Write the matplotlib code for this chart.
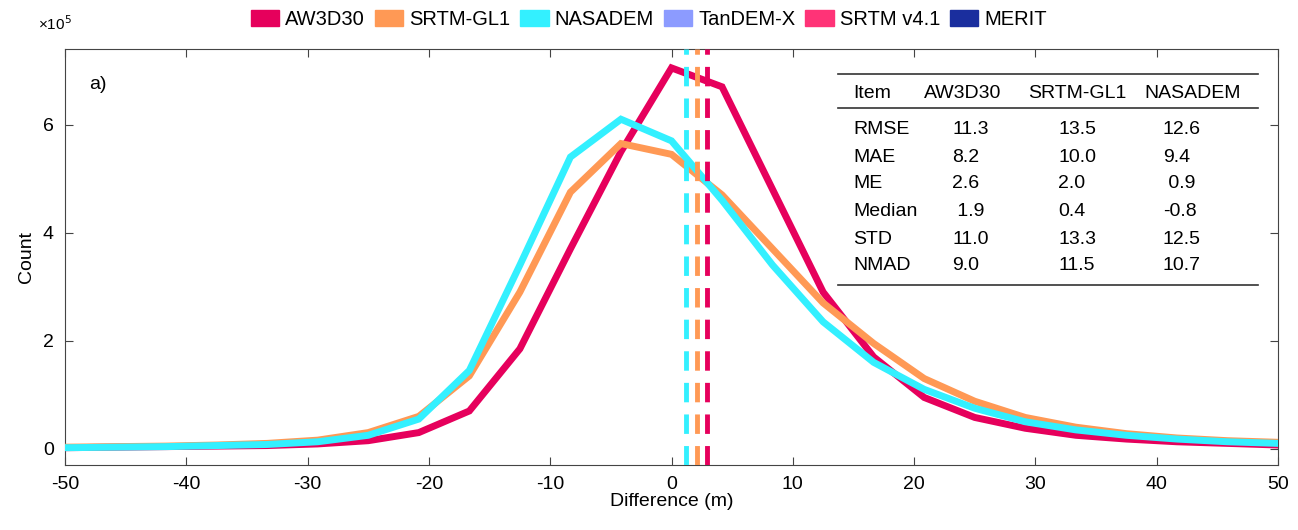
import numpy as np
import matplotlib
matplotlib.use("Agg")
import matplotlib.pyplot as plt
from matplotlib.patches import Patch, Rectangle

plt.rcParams['font.family'] = ['Liberation Sans', 'DejaVu Sans']
plt.rcParams['axes.unicode_minus'] = False

x = np.linspace(-50, 50, 25)
aw = [0.02,0.03,0.04,0.05,0.06,0.09,0.15,0.3,0.7,1.85,3.7,5.5,7.05,6.7,4.8,2.9,1.7,0.95,0.58,0.38,0.25,0.18,0.13,0.1,0.07]
srtm = [0.03,0.04,0.05,0.07,0.1,0.16,0.3,0.6,1.35,2.9,4.75,5.65,5.45,4.7,3.7,2.7,1.95,1.3,0.88,0.58,0.4,0.28,0.2,0.15,0.12]
nasa = [0.02,0.03,0.04,0.06,0.08,0.13,0.25,0.55,1.45,3.4,5.4,6.1,5.7,4.6,3.4,2.35,1.6,1.1,0.75,0.5,0.35,0.25,0.18,0.13,0.1]
me_lines = [2.9, 2.1, 1.2]

names = ['AW3D30', 'SRTM-GL1', 'NASADEM', 'TanDEM-X', 'SRTM v4.1', 'MERIT']
colors = ['#E6005C', '#FF9955', '#33F0FF', '#8C9BFF', '#FF3377', '#1A2E9E']

table_header = ['Item', 'AW3D30', 'SRTM-GL1', 'NASADEM']
table_rows = [['RMSE','11.3','13.5','12.6'],['MAE','8.2','10.0','9.4'],['ME','2.6','2.0',' 0.9'],
              ['Median',' 1.9','0.4','-0.8'],['STD','11.0','13.3','12.5'],['NMAD','9.0','11.5','10.7']]

fig = plt.figure(figsize=(12.98, 5.30), dpi=100)
W, H = 1298, 530
L, R, T, B = 65, 1278, 49, 465
ax = fig.add_axes([L/W, 1-B/H, (R-L)/W, (B-T)/H])

for y, c in zip([aw, srtm, nasa], colors[:3]):
    ax.plot(x, y, color=c, lw=5, solid_joinstyle='miter', zorder=3)
for xv, c in zip(me_lines, colors[:3]):
    ax.axvline(xv, color=c, lw=3.5, ls=(0, (4, 2.5)), zorder=4)

ax.set_xlim(-50, 50)
ax.set_ylim(-0.3, 7.4)
ax.set_xticks(np.arange(-50, 51, 10))
ax.set_yticks([0, 2, 4, 6])
for s in ax.spines.values():
    s.set_color('#444444')
ax.tick_params(direction='in', top=True, right=True, labelsize=14, length=6, color='#444444', pad=8)
ax.set_xlabel('Difference (m)', fontsize=14, labelpad=0)
ax.set_ylabel('Count', fontsize=14, labelpad=6)
ax.text(-0.022, 1.045, '×10$^5$', transform=ax.transAxes, fontsize=11, ha='left')
ax.text(0.02, 0.905, 'a)', transform=ax.transAxes, fontsize=14)

handles = [Patch(color=c) for c in colors]
fig.legend(handles, names, loc='upper center', bbox_to_anchor=(0.5, 1.015), ncol=6, frameon=False,
           fontsize=14.5, handlelength=1.4, handleheight=0.8, columnspacing=0.5, handletextpad=0.3)

def fx(px): return (px - L) / (R - L)
def fy(py): return (B - py) / (B - T)
ax.add_patch(Rectangle((fx(838), fy(286)), fx(1258)-fx(838), fy(72)-fy(286), transform=ax.transAxes,
                       facecolor='white', edgecolor='none', zorder=5))
for py in [74, 108, 285]:
    ax.plot([fx(838), fx(1258)], [fy(py), fy(py)], transform=ax.transAxes, color='#333333', lw=1.2, zorder=6)
hx = [853, 924, 1028, 1144]
vx = [853, 952, 1058, 1163]
for i, h in enumerate(table_header):
    ax.text(fx(hx[i]), fy(93), h, transform=ax.transAxes, fontsize=14, ha='left', va='center', zorder=7)
rowy = [129, 158, 184, 211, 239, 265]
for r, row in enumerate(table_rows):
    for i, v in enumerate(row):
        ax.text(fx(vx[i]), fy(rowy[r]), v, transform=ax.transAxes, fontsize=14, ha='left', va='center', zorder=7)

fig.savefig('out.png', dpi=100)
